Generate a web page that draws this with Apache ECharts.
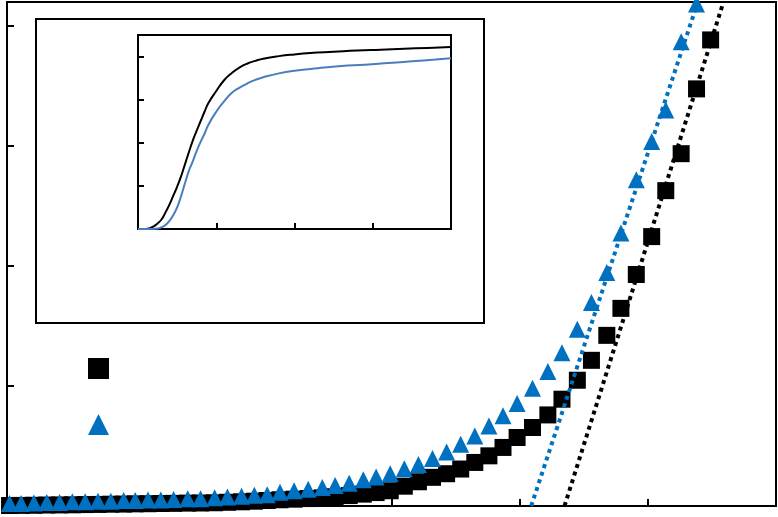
<!DOCTYPE html>
<html>
<head>
<meta charset="utf-8">
<script src="https://cdn.jsdelivr.net/npm/echarts@6/dist/echarts.min.js"></script>
<style>html,body{margin:0;padding:0;background:#fff}#c{width:778px;height:517px}</style>
</head>
<body>
<div id="c"></div>
<script>
// ---- main chart data ----
const xValues = [0.02,0.11,0.21,0.31,0.41,0.51,0.61,0.71,0.81,0.91,1.00,1.10,1.20,1.30,1.41,1.51,
  1.62,1.72,1.83,1.93,2.03,2.13,2.24,2.35,2.46,2.56,2.67,2.78,2.88,2.99,
  3.10,3.21,3.32,3.43,3.54,3.65,3.76,3.87,3.98,4.10,4.22,4.33,
  4.45,4.56,4.68,4.79,4.91,5.03,5.14,5.26,5.38,5.49];
const squareValues = [0.004,0.005,0.006,0.008,0.009,0.010,0.012,0.013,0.015,0.016,0.018,0.019,0.021,0.022,0.024,0.025,
  0.027,0.031,0.035,0.040,0.046,0.052,0.057,0.062,0.068,0.077,0.087,0.099,0.112,0.127,
  0.165,0.202,0.239,0.269,0.308,0.363,0.418,0.488,0.571,0.654,0.759,0.890,
  1.048,1.214,1.422,1.647,1.929,2.245,2.628,2.936,3.476,3.884];
const triangleValues = [0.020,0.020,0.025,0.030,0.030,0.035,0.035,0.040,0.040,0.045,0.045,0.050,0.050,0.055,0.060,0.061,
  0.069,0.075,0.081,0.089,0.093,0.115,0.128,0.140,0.155,0.170,0.189,0.219,0.241,0.269,
  0.310,0.345,0.396,0.450,0.514,0.584,0.667,0.752,0.854,0.981,1.120,1.278,
  1.472,1.696,1.946,2.276,2.719,3.038,3.301,3.869,4.183];
const blackFit = [[4.35,0],[5.59,4.2]];
const blueFit = [[4.09,0],[5.39,4.2]];
const xTicks = {min:0, max:6, interval:1};
const yTicks = {min:0, max:4.2, interval:1};

// ---- inset data ----
const insetBlack = [[0,0],[0.1,0],[0.15,0.02],[0.2,0.06],[0.25,0.13],[0.3,0.22],[0.35,0.38],[0.4,0.56],[0.45,0.77],
  [0.5,0.98],[0.55,1.22],[0.6,1.5],[0.65,1.78],[0.7,2.05],[0.75,2.28],[0.8,2.5],[0.85,2.72],[0.9,2.92],
  [1.0,3.2],[1.1,3.45],[1.2,3.62],[1.3,3.75],[1.4,3.84],[1.5,3.9],[1.6,3.95],[1.8,4.01],[2.0,4.05],
  [2.2,4.08],[2.5,4.11],[2.8,4.14],[3.1,4.16],[3.4,4.18],[3.7,4.2],[4.0,4.22]];
const insetBlue = [[0,0],[0.2,0],[0.25,0.01],[0.3,0.04],[0.35,0.09],[0.4,0.18],[0.45,0.32],[0.5,0.5],
  [0.55,0.76],[0.6,1.06],[0.65,1.35],[0.7,1.57],[0.75,1.81],[0.8,2.02],[0.85,2.21],[0.9,2.42],
  [1.0,2.72],[1.1,2.96],[1.2,3.16],[1.3,3.28],[1.4,3.38],[1.5,3.46],[1.6,3.52],[1.8,3.61],[2.0,3.67],
  [2.3,3.73],[2.6,3.78],[2.9,3.81],[3.2,3.85],[3.5,3.89],[3.8,3.93],[4.0,3.96]];
const insetXTicks = {min:0, max:4, interval:1};
const insetYTicks = {min:0, max:4.5, interval:1};

const seriesNames = ['Sample 1', 'Sample 2'];

const squares = xValues.map((x, i) => [x, squareValues[i]]);
const triangles = triangleValues.map((v, i) => [xValues[i], v]);

function axisCommon(t, tickLen) {
  return Object.assign({
    type: 'value',
    axisLine: {show: true, onZero: false, lineStyle: {color: '#000', width: 2}},
    axisTick: {show: true, inside: true, length: tickLen, lineStyle: {color: '#000', width: 2}},
    axisLabel: {show: false},
    splitLine: {show: false}
  }, t);
}

const chart = echarts.init(document.getElementById('c'), null, {renderer: 'canvas'});
chart.setOption({
  animation: false,
  backgroundColor: '#fff',
  grid: [
    {left: 7, right: 2, top: 2, bottom: 11, show: true, borderColor: '#000', borderWidth: 2, backgroundColor: 'transparent'},
    {left: 138, right: 327, top: 35, bottom: 288, show: true, borderColor: '#000', borderWidth: 2, backgroundColor: 'transparent'}
  ],
  xAxis: [
    Object.assign(axisCommon(xTicks, 7), {gridIndex: 0}),
    Object.assign(axisCommon(insetXTicks, 6), {gridIndex: 1})
  ],
  yAxis: [
    Object.assign(axisCommon(yTicks, 7), {gridIndex: 0}),
    Object.assign(axisCommon(insetYTicks, 6), {gridIndex: 1})
  ],
  graphic: [{
    type: 'rect', z: 1, silent: true,
    shape: {x: 36, y: 19, width: 448, height: 304},
    style: {fill: 'transparent', stroke: '#000', lineWidth: 2}
  }],
  legend: {
    orient: 'vertical', left: 88, top: 358, padding: 0, itemWidth: 21, itemHeight: 21, itemGap: 35,
    selectedMode: false, formatter: () => '',
    data: [{name: seriesNames[0], icon: 'rect'}, {name: seriesNames[1], icon: 'triangle'}]
  },
  series: [
    {name: seriesNames[0], type: 'scatter', xAxisIndex: 0, yAxisIndex: 0, symbol: 'rect', symbolSize: 17,
     itemStyle: {color: '#000', opacity: 1}, data: squares, z: 2},
    {name: seriesNames[1], type: 'scatter', xAxisIndex: 0, yAxisIndex: 0, symbol: 'triangle', symbolSize: 17,
     itemStyle: {color: '#0070C0', opacity: 1}, data: triangles, z: 3},
    {name: 'fit1', type: 'line', xAxisIndex: 0, yAxisIndex: 0, data: blackFit, symbol: 'none', z: 4,
     lineStyle: {color: '#000', width: 4, type: [4, 4], cap: 'butt'}},
    {name: 'fit2', type: 'line', xAxisIndex: 0, yAxisIndex: 0, data: blueFit, symbol: 'none', z: 5,
     lineStyle: {color: '#0070C0', width: 4, type: [4, 4], cap: 'butt'}},
    {name: 'inset1', type: 'line', xAxisIndex: 1, yAxisIndex: 1, data: insetBlack, symbol: 'none', smooth: true, z: 6,
     lineStyle: {color: '#000', width: 2}},
    {name: 'inset2', type: 'line', xAxisIndex: 1, yAxisIndex: 1, data: insetBlue, symbol: 'none', smooth: true, z: 6,
     lineStyle: {color: '#4a7ebb', width: 2}}
  ]
});
</script>
</body>
</html>
